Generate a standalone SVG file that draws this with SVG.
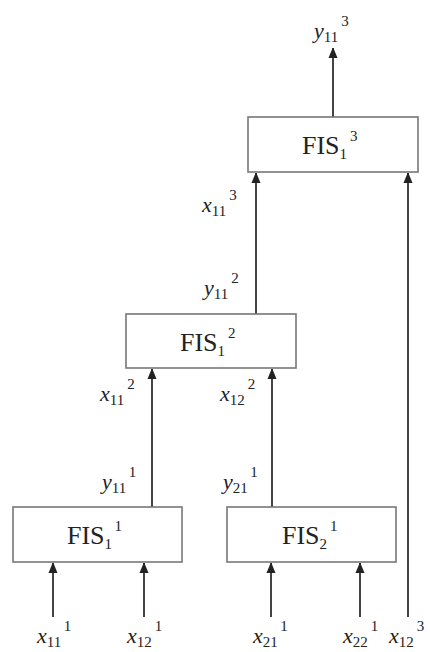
<svg xmlns="http://www.w3.org/2000/svg" width="430" height="652" viewBox="0 0 430 652">
<style>
.box{fill:#fff;stroke:#777;stroke-width:1.6}
.ln{stroke:#444;stroke-width:2;fill:none}
.i{font-style:italic}
.s{font-size:15px;font-style:normal}
</style>
<defs>
<marker id="ar" markerWidth="10" markerHeight="12" refX="10" refY="5" orient="auto" markerUnits="userSpaceOnUse">
<path d="M0,0.5 L11,5 L0,9.5 Z" fill="#222"/>
</marker>
</defs>
<rect width="430" height="652" fill="#fff"/>
<g id="connectors">
<line class="ln" x1="333" y1="117" x2="333" y2="48" marker-end="url(#ar)"/>
<line class="ln" x1="256" y1="314" x2="256" y2="173" marker-end="url(#ar)"/>
<line class="ln" x1="408" y1="617" x2="408" y2="173" marker-end="url(#ar)"/>
<line class="ln" x1="152" y1="507" x2="152" y2="369" marker-end="url(#ar)"/>
<line class="ln" x1="272" y1="507" x2="272" y2="369" marker-end="url(#ar)"/>
<line class="ln" x1="53" y1="617" x2="53" y2="563" marker-end="url(#ar)"/>
<line class="ln" x1="144" y1="617" x2="144" y2="563" marker-end="url(#ar)"/>
<line class="ln" x1="271" y1="617" x2="271" y2="563" marker-end="url(#ar)"/>
<line class="ln" x1="360" y1="617" x2="360" y2="563" marker-end="url(#ar)"/>
</g>
<g font-family="Liberation Serif, DejaVu Serif, serif" fill="#222">
<g id="fis13" font-size="26">
<rect class="box" x="248" y="117" width="170" height="55"/>
<text x="302" y="154">FIS<tspan class="s" dy="5">1</tspan><tspan class="s" dx="3" dy="-18">3</tspan></text>
</g>
<g id="fis12" font-size="26">
<rect class="box" x="126" y="314" width="170" height="54"/>
<text x="180" y="351">FIS<tspan class="s" dy="5">1</tspan><tspan class="s" dx="3" dy="-18">2</tspan></text>
</g>
<g id="fis11" font-size="26">
<rect class="box" x="13" y="507" width="169" height="55"/>
<text x="67" y="544">FIS<tspan class="s" dy="5">1</tspan><tspan class="s" dx="3" dy="-18">1</tspan></text>
</g>
<g id="fis21" font-size="26">
<rect class="box" x="227" y="507" width="169" height="55"/>
<text x="282" y="544">FIS<tspan class="s" dy="5">2</tspan><tspan class="s" dx="3" dy="-18">1</tspan></text>
</g>
<g id="labels" font-size="22">
<text x="314" y="38"><tspan class="i">y</tspan><tspan class="s" dy="4">11</tspan><tspan class="s" dx="3" dy="-16">3</tspan></text>
<text x="202" y="212"><tspan class="i">x</tspan><tspan class="s" dy="4">11</tspan><tspan class="s" dx="3" dy="-16">3</tspan></text>
<text x="204" y="295"><tspan class="i">y</tspan><tspan class="s" dy="4">11</tspan><tspan class="s" dx="3" dy="-16">2</tspan></text>
<text x="100" y="401"><tspan class="i">x</tspan><tspan class="s" dy="4">11</tspan><tspan class="s" dx="3" dy="-16">2</tspan></text>
<text x="220" y="401"><tspan class="i">x</tspan><tspan class="s" dy="4">12</tspan><tspan class="s" dx="3" dy="-16">2</tspan></text>
<text x="102" y="489"><tspan class="i">y</tspan><tspan class="s" dy="4">11</tspan><tspan class="s" dx="3" dy="-16">1</tspan></text>
<text x="223" y="489"><tspan class="i">y</tspan><tspan class="s" dy="4">21</tspan><tspan class="s" dx="3" dy="-16">1</tspan></text>
<text x="37" y="643"><tspan class="i">x</tspan><tspan class="s" dy="4">11</tspan><tspan class="s" dx="3" dy="-16">1</tspan></text>
<text x="127" y="643"><tspan class="i">x</tspan><tspan class="s" dy="4">12</tspan><tspan class="s" dx="3" dy="-16">1</tspan></text>
<text x="253" y="643"><tspan class="i">x</tspan><tspan class="s" dy="4">21</tspan><tspan class="s" dx="3" dy="-16">1</tspan></text>
<text x="343" y="643"><tspan class="i">x</tspan><tspan class="s" dy="4">22</tspan><tspan class="s" dx="3" dy="-16">1</tspan></text>
<text x="389" y="643"><tspan class="i">x</tspan><tspan class="s" dy="4">12</tspan><tspan class="s" dx="3" dy="-16">3</tspan></text>
</g>
</g>
</svg>
